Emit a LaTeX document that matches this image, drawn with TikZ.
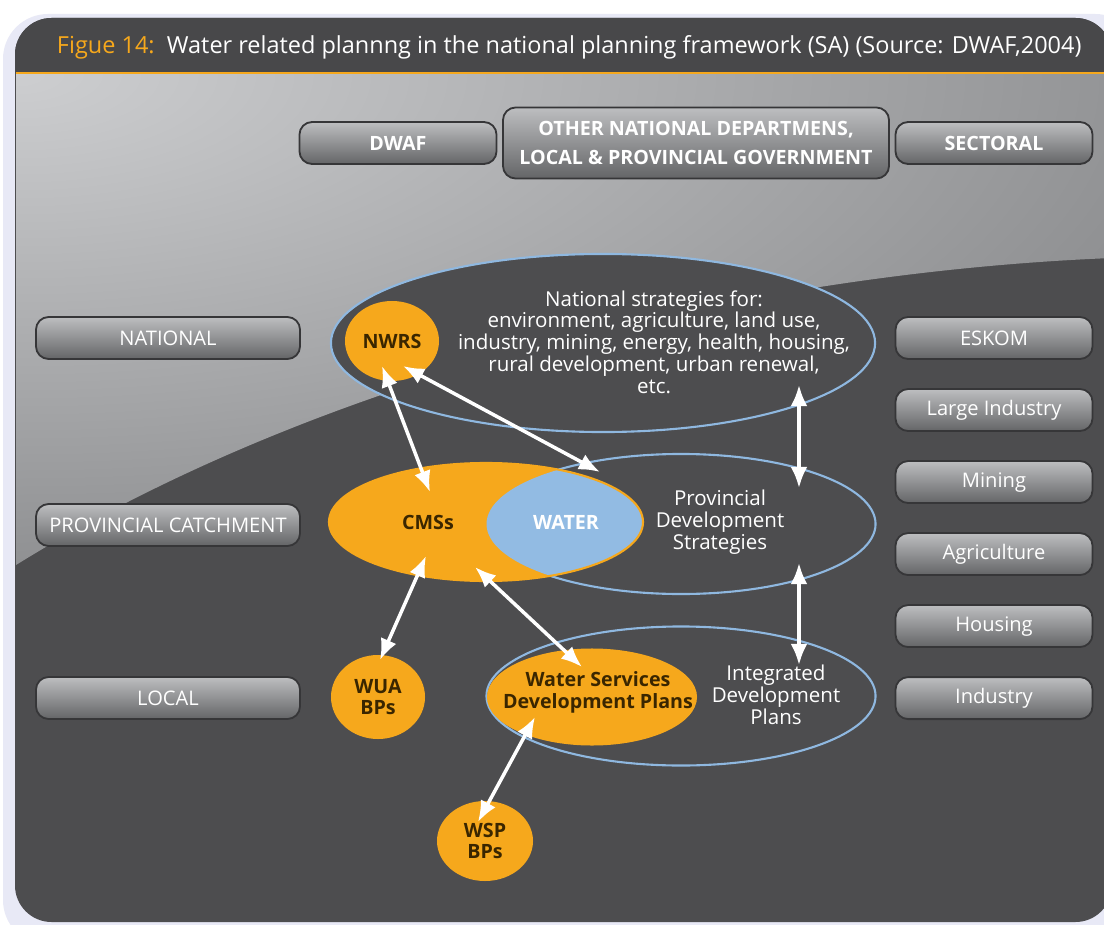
\documentclass[tikz,border=0pt]{standalone}
\usepackage{fontspec}
\setmainfont{Open Sans}
\usetikzlibrary{shapes, arrows.meta, positioning}

\definecolor{panel}{HTML}{4D4D4F}
\definecolor{titlebar}{HTML}{48484A}
\definecolor{amber}{HTML}{F6A81C}
\definecolor{skyline}{HTML}{8FB8E0}
\definecolor{skyfill}{HTML}{92BBE3}
\definecolor{brownish}{HTML}{3A2600}
\definecolor{glosstop}{HTML}{CDCED0}
\definecolor{glossbot}{HTML}{555658}
\definecolor{btntop}{HTML}{BDBEC0}
\definecolor{btnbot}{HTML}{646567}
\definecolor{btnrim}{HTML}{363638}
\definecolor{halo}{HTML}{E8E9F6}

\tikzset{
  button/.style={draw=btnrim, line width=1.3pt, rounded corners=9pt, top color=btntop, bottom color=btnbot,
    text=white, font=\fontsize{14.3}{16}\selectfont, minimum height=1.05cm, inner sep=0pt},
  headbutton/.style={button, font=\bfseries\fontsize{14}{21}\selectfont},
  ring/.style={ellipse, draw=skyline, line width=1.5pt, fill=panel, inner sep=0pt},
  blob/.style={ellipse, fill=amber, inner sep=0pt},
  blobtext/.style={text=brownish, align=center, font=\bfseries\fontsize{14}{15.5}\selectfont},
  words/.style={text=white, align=center, font=\fontsize{14.6}{15.5}\selectfont},
  twoway/.style={{Latex[length=15pt,width=12pt]}-{Latex[length=15pt,width=12pt]}, white, line width=2.5pt},
}

\begin{document}
\begin{tikzpicture}[x=0.025cm, y=-0.025cm, node distance=1.8cm]
    \useasboundingbox (0,0) rectangle (1104,925);

    % frame and background
    \fill[white] (0,0) rectangle (1104,925);
    \fill[halo, rounded corners=32] (3,14) rectangle (1140,945);
    \fill[panel, rounded corners=26] (15,18) rectangle (1112,922);
    \begin{scope}
        \clip (16,74) -- (1112,74) -- (1112,258) .. controls (760,272) and (330,370) .. (16,565) -- cycle;
        \shade[inner color=glosstop, outer color=glossbot] (16,74) ellipse [x radius=2300, y radius=960];
    \end{scope}
    \begin{scope}
        \clip (15,18) rectangle (1112,73);
        \fill[titlebar, rounded corners=26] (15,18) rectangle (1112,922);
    \end{scope}
    \draw[amber, line width=1.5pt] (16,73) -- (1112,73);
    \node[anchor=west, text=white, font=\fontsize{16.7}{19}\selectfont] (title) at (52,47)
        {\textcolor{amber}{Figue 14:}\ \ Water related plannng in the national planning framework (SA) (Source: DWAF,2004)};

    % column heads
    \node[headbutton, minimum width=4.925cm] (dwaf) at (398,143) {DWAF};
    \node[headbutton, minimum width=9.65cm, minimum height=1.775cm, align=center] (others) at (696,143)
          {OTHER NATIONAL DEPARTMENS,\\ LOCAL \& PROVINCIAL GOVERNMENT};
    \node[headbutton, minimum width=4.925cm] (sectoral) at (994,143) {SECTORAL};

    % levels
    \node[button, minimum width=6.6cm] (national) at (168,338) {NATIONAL};
    \node[button, minimum width=6.6cm] (provincial) at (168,525) {PROVINCIAL CATCHMENT};
    \node[button, minimum width=6.6cm] (local) at (168,698) {LOCAL};

    % sectors
    \node[button, minimum width=4.925cm] (eskom) at (994,338) {ESKOM};
    \node[button, minimum width=4.925cm, below of=eskom] (largeind) {Large Industry};
    \node[button, minimum width=4.925cm, below of=largeind] (mining) {Mining};
    \node[button, minimum width=4.925cm, below of=mining] (agri) {Agriculture};
    \node[button, minimum width=4.925cm, below of=agri] (housing) {Housing};
    \node[button, minimum width=4.925cm, below of=housing] (industry) {Industry};

    % national level
    \node[ring, minimum width=13.6cm, minimum height=4.45cm] (natring) at (603,343) {};
    \node[words] (nattext) at (654,342) {National strategies for:\\ environment, agriculture, land use,\\
        industry, mining, energy, health, housing,\\ rural development, urban renewal,\\ etc.};
    \node[blob, minimum width=2.35cm, minimum height=2cm] (nwrs) at (392,341) {};
    \node[blobtext] (nwrstext) at (nwrs) {NWRS};

    % provincial level
    \node[ring, minimum width=9.725cm, minimum height=3.5cm] (provring) at (681,524) {};
    \node[blob, minimum width=7.85cm, minimum height=2.95cm] (cms) at (486,522) {};
    \begin{scope}
        \clip (486,522) ellipse [x radius=157, y radius=59];
        \fill[skyfill] (681,524) ellipse [x radius=194.5, y radius=70];
    \end{scope}
    \draw[amber, line width=1.5pt] (486,522) ellipse [x radius=157, y radius=59];
    \node[blobtext] (cmstext) at (428,522) {CMSs};
    \node[blobtext, text=white] (water) at (566,522) {WATER};
    \node[words] (provtext) at (720,522) {Provincial\\ Development\\ Strategies};

    % local level
    \node[ring, minimum width=9.725cm, minimum height=3.475cm] (idpring) at (681,696) {};
    \node[blob, minimum width=5.25cm, minimum height=2.425cm] (wsdp) at (592,697) {};
    \node[blobtext] (wsdptext) at (598,692) {Water Services\\ Development Plans};
    \node[words] (idptext) at (776,695) {Integrated\\ Development\\ Plans};
    \node[blob, minimum width=2.35cm, minimum height=2.1cm] (wua) at (378,697) {};
    \node[blobtext] (wuatext) at (wua) {WUA\\ BPs};
    \node[blob, minimum width=2.4cm, minimum height=2cm] (wsp) at (485,841) {};
    \node[blobtext] (wsptext) at (wsp) {WSP\\ BPs};

    % links
    \coordinate (nwrsA) at (382,366);
    \coordinate (nwrsB) at (403,366);
    \coordinate (cmsN) at (430,492);
    \coordinate (provN) at (600,472);
    \coordinate (natS) at (799,385);
    \coordinate (provT) at (799,488);
    \coordinate (provB) at (799,563);
    \coordinate (idpT) at (799,665);
    \coordinate (cmsS) at (426,556);
    \coordinate (wuaN) at (380,660);
    \coordinate (cmsE) at (475,567);
    \coordinate (wsdpN) at (582,667);
    \coordinate (wsdpS) at (535,717);
    \coordinate (wspN) at (478,822);

    \draw[twoway] (nwrsA) -- (cmsN);
    \draw[twoway] (nwrsB) -- (provN);
    \draw[twoway] (natS) -- (provT);
    \draw[twoway] (provB) -- (idpT);
    \draw[twoway] (cmsS) -- (wuaN);
    \draw[twoway] (cmsE) -- (wsdpN);
    \draw[twoway] (wsdpS) -- (wspN);
\end{tikzpicture}
\end{document}
